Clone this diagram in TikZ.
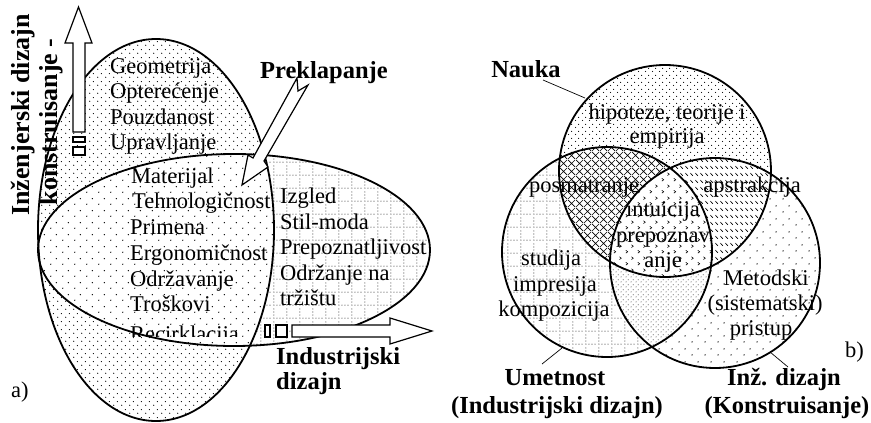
\documentclass[tikz,border=0pt]{standalone}
\usepackage{fontspec}
\setmainfont{Liberation Serif}
\usetikzlibrary{patterns.meta}
\newcommand\rsz{\fontsize{22.5}{25.5}\selectfont}
\newcommand\bsz{\bfseries\fontsize{24.5}{28}\selectfont}
\newcommand\vsz{\bfseries\fontsize{26}{30}\selectfont}
\tikzdeclarepattern{name=dotsA, bottom left={(0pt,0pt)}, top right={(8pt,8pt)}, tile size={(8pt,8pt)},
  code={\fill (2pt,2pt) circle (0.65pt); \fill (6pt,6pt) circle (0.65pt);}}
\tikzdeclarepattern{name=dotsB, bottom left={(0pt,0pt)}, top right={(12pt,12pt)}, tile size={(12pt,12pt)},
  code={\fill (3pt,3pt) circle (0.75pt); \fill (9pt,9pt) circle (0.75pt);}}
\tikzdeclarepattern{name=gridA, bottom left={(0pt,0pt)}, top right={(13pt,13pt)}, tile size={(13pt,13pt)},
  code={\fill (1pt,1pt) circle (0.55pt); \fill (1pt,4.25pt) circle (0.55pt); \fill (1pt,7.5pt) circle (0.55pt); \fill (1pt,10.75pt) circle (0.55pt);
        \fill (4.25pt,1pt) circle (0.55pt); \fill (7.5pt,1pt) circle (0.55pt); \fill (10.75pt,1pt) circle (0.55pt);}}
\tikzdeclarepattern{name=dotsN, bottom left={(0pt,0pt)}, top right={(7pt,7pt)}, tile size={(7pt,7pt)},
  code={\fill (1.75pt,1.75pt) circle (0.65pt); \fill (5.25pt,5.25pt) circle (0.65pt);}}
\tikzdeclarepattern{name=dotsI, bottom left={(0pt,0pt)}, top right={(13pt,13pt)}, tile size={(13pt,13pt)},
  code={\fill (3.25pt,3.25pt) circle (0.8pt); \fill (9.75pt,9.75pt) circle (0.8pt);}}
\tikzdeclarepattern{name=dotsF, bottom left={(0pt,0pt)}, top right={(5pt,5pt)}, tile size={(5pt,5pt)},
  code={\fill (1.25pt,1.25pt) circle (0.55pt); \fill (3.75pt,3.75pt) circle (0.55pt);}}
\tikzdeclarepattern{name=xhatch, bottom left={(0pt,0pt)}, top right={(8pt,8pt)}, tile size={(8pt,8pt)},
  code={\draw[line width=0.7pt] (0pt,0pt) -- (8pt,8pt) (0pt,8pt) -- (8pt,0pt);}}
\tikzdeclarepattern{name=bstroke, bottom left={(0pt,0pt)}, top right={(5pt,7pt)}, tile size={(5pt,7pt)},
  code={\draw[line width=0.8pt] (0.5pt,5.5pt) -- (3.5pt,2.5pt);}}
\tikzdeclarepattern{name=chev, bottom left={(0pt,0pt)}, top right={(12pt,12pt)}, tile size={(12pt,12pt)},
  code={\draw[line width=0.6pt] (2pt,5pt) -- (4pt,3.5pt) -- (2pt,2pt) (8pt,11pt) -- (10pt,9.5pt) -- (8pt,8pt);}}
\begin{document}
\begin{tikzpicture}[x=1pt,y=-1pt,
  rt/.style={font=\rsz, inner sep=0pt, anchor=base west},
  rtc/.style={font=\rsz, inner sep=0pt, anchor=base},
  bt/.style={font=\bsz, inner sep=0pt, anchor=base west},
  btc/.style={font=\bsz, inner sep=0pt, anchor=base},
  vt/.style={font=\vsz, inner sep=0pt, rotate=90},
  outl/.style={line width=1.8pt},
  blk/.style={draw, fill=white, line width=1.2pt, line join=miter},
  lead/.style={line width=0.7pt}]
\useasboundingbox (0,0) rectangle (871,423);
% ---------------- part a ----------------
\fill[white] (156,230) ellipse [x radius=118pt, y radius=191pt];
\fill[pattern=dotsA] (156,230) ellipse [x radius=118pt, y radius=191pt];
\fill[white] (234,250) ellipse [x radius=196pt, y radius=96pt];
\fill[pattern=gridA] (234,250) ellipse [x radius=196pt, y radius=96pt];
\begin{scope}
  \clip (156,230) ellipse [x radius=118pt, y radius=191pt];
  \fill[white] (234,250) ellipse [x radius=196pt, y radius=96pt];
  \fill[pattern=dotsB] (234,250) ellipse [x radius=196pt, y radius=96pt];
\end{scope}
\draw[outl] (156,230) ellipse [x radius=118pt, y radius=191pt];
\draw[outl] (234,250) ellipse [x radius=196pt, y radius=96pt];
% vertical block arrow
\path[blk] (73,132) -- (73,43) -- (65,43) -- (78.5,7) -- (92,43) -- (85,43) -- (85,132) -- cycle;
\path[blk] (73,137) rectangle (85,142);
\path[blk] (73,147) rectangle (85,155);
% horizontal block arrow
\path[blk] (292,325) -- (390,325) -- (390,318) -- (432,331) -- (390,344) -- (390,337) -- (292,337) -- cycle;
\path[blk] (265,325) rectangle (270,337);
\path[blk] (276,325) rectangle (287,337);
% overlap arrow
\path[blk] (297,78) -- (298,91) -- (308,85) -- (264,161) -- (268,167) -- (242,185) -- (248,155) -- (253,158) -- cycle;
% texts a
\node[rt] (g1) at (110,73) {Geometrija};
\node[rt] (g2) at (110,98.5) {Opterećenje};
\node[rt] (g3) at (110,124) {Pouzdanost};
\node[rt] (g4) at (110,149.5) {Upravljanje};
\node[rt] (m1) at (131,183) {Materijal};
\node[rt] (m2) at (132,208.5) {Tehnologičnost};
\node[rt] (m3) at (130,234) {Primena};
\node[rt] (m4) at (130,260) {Ergonomičnost};
\node[rt] (m5) at (130,286) {Održavanje};
\node[rt] (m6) at (130,311.5) {Troškovi};
\begin{scope}
  \clip (0,0) rectangle (871,336.5);
  \node[rt] (m7) at (130,341) {Recirklacija};
\end{scope}
\node[rt] (i1) at (280,203) {Izgled};
\node[rt] (i2) at (280,229) {Stil-moda};
\node[rt] (i3) at (280,254.5) {Prepoznatljivost};
\node[rt] (i4) at (280,280) {Održanje na};
\node[rt] (i5) at (280,305.5) {tržištu};
\node[bt] (prek) at (260,78) {Preklapanje};
\node[bt] (ind1) at (276,364) {Industrijski};
\node[bt] (ind2) at (276,389) {dizajn};
\node[rt] (la) at (11,397) {a)};
\node[vt] (inz) at (23,115) {Inženjerski dizajn};
\node[vt] (kon) at (51,122) {konstruisanje -};
% ---------------- part b ----------------
\fill[white] (607,252) circle (105pt);
\fill[pattern=gridA] (607,252) circle (105pt);
\fill[white] (715,263) circle (105pt);
\fill[pattern=dotsI] (715,263) circle (105pt);
\fill[white] (665,171) circle (106pt);
\fill[pattern=dotsN] (665,171) circle (106pt);
\begin{scope}
  \clip (607,252) circle (105pt);
  \fill[white] (715,263) circle (105pt);
  \fill[pattern=dotsF] (715,263) circle (105pt);
\end{scope}
\begin{scope}
  \clip (665,171) circle (106pt);
  \fill[white] (607,252) circle (105pt);
  \fill[pattern=xhatch] (607,252) circle (105pt);
\end{scope}
\begin{scope}
  \clip (665,171) circle (106pt);
  \fill[white] (715,263) circle (105pt);
  \fill[pattern=bstroke] (715,263) circle (105pt);
\end{scope}
\begin{scope}
  \clip (665,171) circle (106pt);
  \clip (607,252) circle (105pt);
  \fill[white] (715,263) circle (105pt);
  \fill[pattern=chev] (715,263) circle (105pt);
\end{scope}
\draw[outl] (665,171) circle (106pt);
\draw[outl] (607,252) circle (105pt);
\draw[outl] (715,263) circle (105pt);
% texts b
\node[rtc] (h1) at (667,119) {hipoteze, teorije i};
\node[rtc] (h2) at (667,143.5) {empirija};
\node[rtc] (pos) at (584,192) {posmatranje};
\node[rtc] (aps) at (752,192) {apstrakcija};
\node[rtc] (in1) at (663,216) {intuicija};
\node[rtc] (in2) at (663,242) {prepoznav};
\node[rtc] (in3) at (663,267) {anje};
\node[rtc] (s1) at (551,265) {studija};
\node[rtc] (s2) at (555,291) {impresija};
\node[rtc] (s3) at (554,316.5) {kompozicija};
\node[rtc] (t1) at (766,285) {Metodski};
\node[rtc] (t2) at (765,310) {(sistematski)};
\node[rtc] (t3) at (761,335) {pristup};
\node[btc] (nauka) at (526,77) {Nauka};
\node[btc] (um1) at (555,385) {Umetnost};
\node[btc] (um2) at (557,413) {(Industrijski dizajn)};
\node[btc] (iz1) at (784,385) {Inž. dizajn};
\node[btc] (iz2) at (787,413) {(Konstruisanje)};
\node[rt] (lb) at (845,357) {b)};
\coordinate (nkA) at (543,80);
\coordinate (nkB) at (585,98);
\coordinate (umA) at (542,364);
\coordinate (umB) at (562,348);
\coordinate (izA) at (788,367);
\coordinate (izB) at (770,352);
\draw[lead] (nkA) -- (nkB);
\draw[lead] (umA) -- (umB);
\draw[lead] (izA) -- (izB);
\end{tikzpicture}
\end{document}
